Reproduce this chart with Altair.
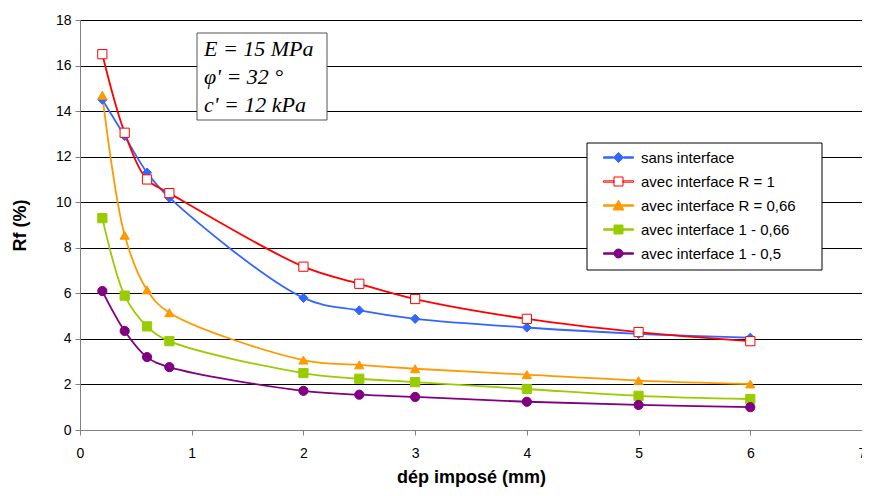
import altair as alt
import pandas as pd

# ---- data ----
x_vals = [0.2, 0.4, 0.6, 0.8, 2, 2.5, 3, 4, 5, 6]
series_names = [
    "sans interface",
    "avec interface R = 1",
    "avec interface R = 0,66",
    "avec interface 1 - 0,66",
    "avec interface 1 - 0,5",
]
sans_interface = [14.5, 12.9, 11.3, 10.2, 5.8, 5.25, 4.88, 4.5, 4.22, 4.05]
interface_r1 = [16.5, 13.05, 11.0, 10.4, 7.17, 6.42, 5.75, 4.88, 4.3, 3.9]
interface_r066 = [14.7, 8.55, 6.15, 5.15, 3.07, 2.86, 2.69, 2.43, 2.17, 2.02]
interface_1_066 = [9.3, 5.9, 4.55, 3.9, 2.5, 2.25, 2.1, 1.8, 1.5, 1.36]
interface_1_05 = [6.1, 4.35, 3.2, 2.76, 1.72, 1.55, 1.45, 1.24, 1.1, 1.0]

line_colors = ["#3366ff", "#ff0000", "#ff9900", "#99cc00", "#800080"]
marker_fills = ["#3366ff", "#ffffff", "#ff9900", "#99cc00", "#800080"]
marker_shapes = ["diamond", "square", "triangle-up", "square", "circle"]

y_ticks = [0, 2, 4, 6, 8, 10, 12, 14, 16, 18]
x_ticks = [0, 1, 2, 3, 4, 5, 6, 7]

annotation_lines = ["E  = 15 MPa", "φ' = 32 °", "c' = 12 kPa"]

FONT = "Liberation Sans"


def bars(gap):
    t = 0.045
    return (f"M-1,-{t}H-{gap}V{t}H-1Z"
            f"M{gap},-{t}H1V{t}H{gap}Z")


# legend symbols: a short line segment with the series marker in the middle
legend_symbols = [
    bars(0.34) + "M0,-0.34L0.34,0L0,0.34L-0.34,0Z",
    bars(0.3) + "M-0.3,-0.3H0.3V0.3H-0.3Z",
    bars(0.2) + "M0,-0.36L0.36,0.3H-0.36Z",
    bars(0.3) + "M-0.3,-0.3H0.3V0.3H-0.3Z",
    bars(0.3) + "M-0.3,0A0.3,0.3 0 1,0 0.3,0A0.3,0.3 0 1,0 -0.3,0Z",
]

all_values = [sans_interface, interface_r1, interface_r066, interface_1_066, interface_1_05]
rows = []
for name, vals in zip(series_names, all_values):
    for xv, yv in zip(x_vals, vals):
        rows.append({"x": xv, "y": yv, "series": name})
df = pd.DataFrame(rows)

PAD_L, PAD_T, PAD_R, PAD_B = 72, 12, 0, 58
W, H = 782, 410   # total 854 x 480

x_enc = alt.X("x:Q", scale=alt.Scale(domain=[0, 7], nice=False, zero=False),
              axis=alt.Axis(values=x_ticks, format="d", title="dép imposé (mm)", grid=False,
                            labelFlush=False, domainColor="#808080", tickColor="#808080",
                            tickSize=5, labelFont=FONT, labelFontSize=14, labelColor="black",
                            labelPadding=11,
                            titleFont=FONT, titleFontSize=18, titleFontWeight="bold",
                            titleColor="black", titlePadding=8))
y_enc = alt.Y("y:Q", scale=alt.Scale(domain=[0, 18], nice=False),
              axis=alt.Axis(values=y_ticks, format="d", title="Rf (%)", grid=True,
                            gridColor="black", gridWidth=1, labelFlush=False,
                            domainColor="#808080", tickColor="#808080",
                            tickSize=5, labelFont=FONT, labelFontSize=14,
                            labelColor="black", labelPadding=4,
                            titleFont=FONT, titleFontSize=18, titleFontWeight="bold",
                            titleColor="black", titlePadding=26))

one_row = pd.DataFrame({"a": [0]})

# legend frame
legend_box = alt.Chart(one_row).mark_rect(
    fill="white", stroke="black", strokeWidth=1
).encode(x=alt.value(507), x2=alt.value(742), y=alt.value(123), y2=alt.value(250))

lines = alt.Chart(df).mark_line(interpolate="catmull-rom", strokeWidth=1.8).encode(
    x=x_enc, y=y_enc,
    color=alt.Color("series:N",
                    scale=alt.Scale(domain=series_names, range=line_colors),
                    legend=None),
    order=alt.Order("x:Q"),
)

points = alt.Chart(df).mark_point(size=85, opacity=1, strokeWidth=1).encode(
    x=x_enc, y=y_enc,
    shape=alt.Shape("series:N", scale=alt.Scale(domain=series_names, range=marker_shapes),
                    legend=None),
    fill=alt.Fill("series:N", scale=alt.Scale(domain=series_names, range=marker_fills),
                  legend=None),
    stroke=alt.Stroke("series:N", scale=alt.Scale(domain=series_names, range=line_colors),
                      legend=None),
)

leg = alt.Legend(orient="none", legendX=507, legendY=114, title=None,
                 symbolSize=900, symbolStrokeWidth=1, padding=8, symbolOffset=8,
                 rowPadding=0, labelFont=FONT, labelFontSize=15,
                 labelColor="black", labelOffset=7, symbolOpacity=1)

legend_layer = alt.Chart(df).transform_filter("false").mark_point(
    opacity=1, strokeWidth=1
).encode(
    x=x_enc, y=y_enc,
    shape=alt.Shape("series:N", scale=alt.Scale(domain=series_names, range=legend_symbols),
                    legend=leg),
    fill=alt.Fill("series:N", scale=alt.Scale(domain=series_names, range=marker_fills),
                  legend=leg),
    stroke=alt.Stroke("series:N", scale=alt.Scale(domain=series_names, range=line_colors),
                      legend=leg),
)

ann_box = alt.Chart(one_row).mark_rect(
    fill="white", stroke="#555555", strokeWidth=1
).encode(x=alt.value(117), x2=alt.value(247), y=alt.value(13), y2=alt.value(100))

ann_layers = []
for i, t in enumerate(annotation_lines):
    ann_layers.append(
        alt.Chart(pd.DataFrame({"t": [t]})).mark_text(
            align="left", baseline="middle", font="Liberation Serif", fontStyle="italic",
            fontSize=22, color="black"
        ).encode(x=alt.value(124), y=alt.value(29 + 28 * i), text="t:N")
    )

chart = alt.layer(ann_box, legend_box, lines, points, legend_layer, *ann_layers).resolve_scale(
    shape="independent", fill="independent", stroke="independent"
).properties(
    width=W, height=H,
    autosize=alt.AutoSizeParams(type="none"),
    padding={"left": PAD_L, "top": PAD_T, "right": PAD_R, "bottom": PAD_B},
    background="white",
).configure_view(stroke=None)

chart.save("out.html", embed_options={"renderer": "svg", "actions": False})
